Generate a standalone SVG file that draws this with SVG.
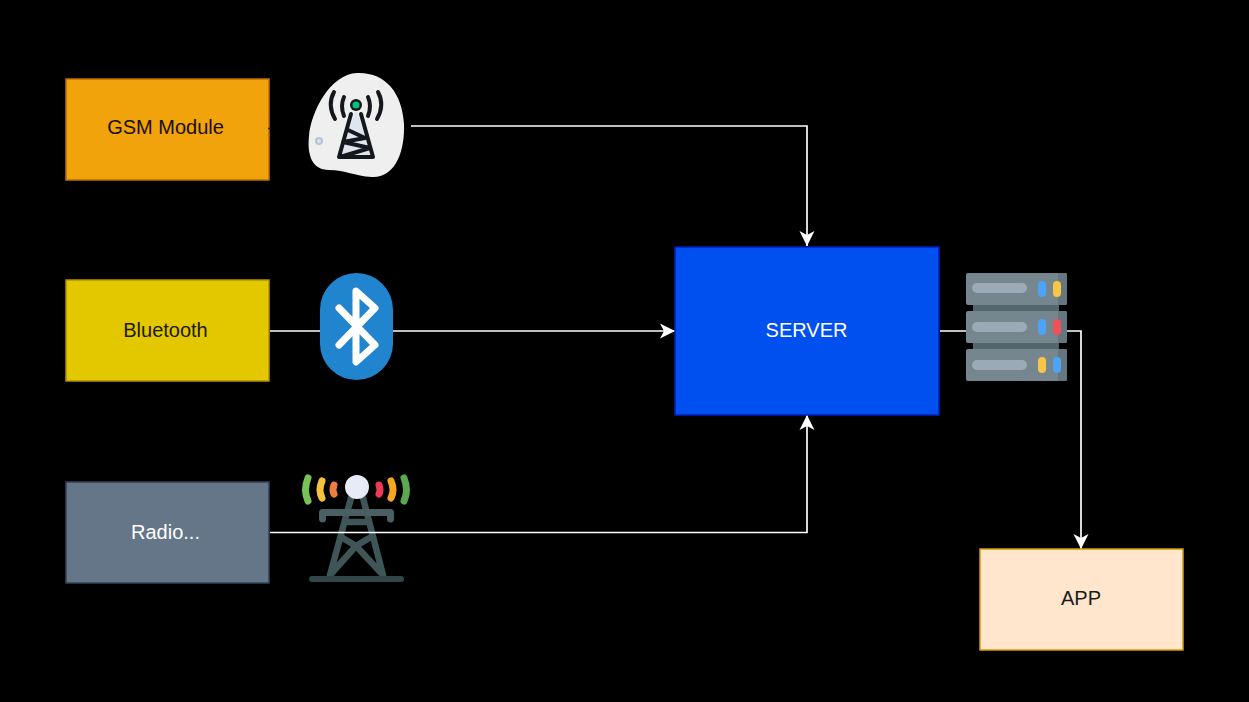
<svg xmlns="http://www.w3.org/2000/svg" width="1249" height="702" viewBox="0 0 1249 702">
<defs>
<style>
.lbl{font-family:"Liberation Sans",Arial,sans-serif;font-size:20px;text-anchor:middle}
.conn{fill:none;stroke:#fff;stroke-width:1.700}
.ink{fill:none;stroke:#14181c;stroke-width:4;stroke-linecap:round;stroke-linejoin:round}
.tw{fill:none;stroke:#3f5558;stroke-width:6.500;stroke-linecap:round}
.arc{fill:none;stroke-width:7;stroke-linecap:round}
</style>
<marker id="arr" markerUnits="userSpaceOnUse" markerWidth="18" markerHeight="18" refX="15" refY="9" orient="auto"><path d="M0 1.500L15 9L0 16.500L4 9Z" fill="#fff"/></marker>
</defs>
<rect width="1249" height="702" fill="#000"/>
<g id="icon-radio">
<path d="M351 498L330 575M363 498L383 575M345 522H368M341 537L356 546L330 575M371 537L356 546L383 575" class="tw"/>
<path d="M322.500 519V512.500H390.500V519" fill="none" stroke="#4a5f63" stroke-width="7" stroke-linecap="round" stroke-linejoin="round"/>
<rect x="309" y="576" width="95" height="6" rx="3" fill="#33474a"/>
<circle cx="357" cy="487" r="12" fill="#e6ebf7"/>
<path class="arc" stroke="#78c257" d="M308 478Q303 490 308 501"/>
<path class="arc" stroke="#f5c33b" d="M322 481Q318 490 322 498"/>
<path class="arc" stroke="#ef7d3b" d="M334 485Q332 490 334 494"/>
<path class="arc" stroke="#ee3b55" d="M379 485Q381 490 379 494"/>
<path class="arc" stroke="#f5a623" d="M391 481Q395 490 391 498"/>
<path class="arc" stroke="#5ba84f" d="M404 478Q409 490 404 501"/>
</g>
<g id="connectors">
<path class="conn" d="M411 126H807V246" marker-end="url(#arr)"/>
<path class="conn" d="M270 331H675" marker-end="url(#arr)"/>
<path class="conn" d="M270 532.500H807V415" marker-end="url(#arr)"/>
<path class="conn" d="M940 331H1081V549" marker-end="url(#arr)"/>
</g>
<g id="gsm"><rect x="66" y="79" width="203" height="101" fill="#f0a30a" stroke="#bd7000" stroke-width="1.500"/><text class="lbl" x="165.500" y="134" fill="#1a0f00">GSM Module</text><path d="M268 128.500H271" stroke="#222" stroke-width="1.500"/></g>
<g id="bluetooth"><rect x="66" y="280" width="203" height="101" fill="#e3c800" stroke="#b09500" stroke-width="1.500"/><text class="lbl" x="165.500" y="337" fill="#1a1a00">Bluetooth</text></g>
<g id="radio"><rect x="66" y="482" width="203" height="101" fill="#647687" stroke="#314354" stroke-width="1.500"/><text class="lbl" x="165.500" y="539" fill="#fff">Radio...</text></g>
<g id="server"><rect x="675" y="247" width="264" height="168" fill="#0050ef" stroke="#001dbc" stroke-width="1.500"/><text class="lbl" x="806.500" y="337" fill="#fff">SERVER</text></g>
<g id="app"><rect x="980" y="549" width="203" height="101" fill="#ffe6cc" stroke="#d79b00" stroke-width="1.500"/><text class="lbl" x="1081" y="605" fill="#1a1a1a">APP</text></g>
<g id="icon-gsm">
<path d="M357 73C385 72 402 92 404 124C405 150 396 178 372 177C354 176 346 170 329 170C312 170 307 155 309 136C311 112 330 74 357 73Z" fill="#efefef"/>
<circle cx="319" cy="141" r="4" fill="#b9c4d8"/><circle cx="319" cy="141" r="1.800" fill="#e6e9f0"/>
<path d="M356 110L339 157H373Z" fill="#dfe5ef"/>
<path class="ink" d="M351 114L339 157H373L361 114M348 130L365 138L343 142L370 148L340 157"/>
<path class="ink" d="M344 97Q340 106 344 116M334 92Q327 105 335 119M368 97Q372 106 368 116M378 92Q385 105 377 119"/>
<circle cx="356" cy="105" r="6" fill="#14181c"/><circle cx="356" cy="105" r="3.500" fill="#00c27a"/>
</g>
<g id="icon-bluetooth">
<rect x="320" y="273" width="73" height="107" rx="36.500" fill="#2184cf"/>
<path d="M339 308L375 345L356 362V291L375 308L339 345" fill="none" stroke="#fff" stroke-width="7" stroke-linecap="round" stroke-linejoin="round"/>
</g>
<g id="icon-servers">
<rect x="973" y="300" width="86" height="16" fill="#54666d"/><rect x="973" y="338" width="86" height="16" fill="#54666d"/>
<rect x="966" y="273" width="101" height="32" rx="2" fill="#76868f"/><rect x="966" y="311" width="101" height="32" rx="2" fill="#76868f"/><rect x="966" y="349" width="101" height="32" rx="2" fill="#76868f"/>
<path d="M1058 273h7a2 2 0 0 1 2 2v28a2 2 0 0 1-2 2h-7zM1058 311h7a2 2 0 0 1 2 2v28a2 2 0 0 1-2 2h-7zM1058 349h7a2 2 0 0 1 2 2v28a2 2 0 0 1-2 2h-7z" fill="#66767e"/>
<rect x="972" y="283" width="55" height="10" rx="5" fill="#9caab8"/><rect x="972" y="322" width="55" height="10" rx="5" fill="#9caab8"/><rect x="972" y="360" width="55" height="10" rx="5" fill="#9caab8"/>
<rect x="1038" y="281" width="8" height="16" rx="4" fill="#4da3f5"/><rect x="1053" y="281" width="8" height="16" rx="4" fill="#f8c548"/>
<rect x="1038" y="319" width="8" height="16" rx="4" fill="#4da3f5"/><rect x="1053" y="319" width="8" height="16" rx="4" fill="#f0505a"/>
<rect x="1038" y="357" width="8" height="16" rx="4" fill="#f8c548"/><rect x="1053" y="357" width="8" height="16" rx="4" fill="#4da3f5"/>
</g>
</svg>
